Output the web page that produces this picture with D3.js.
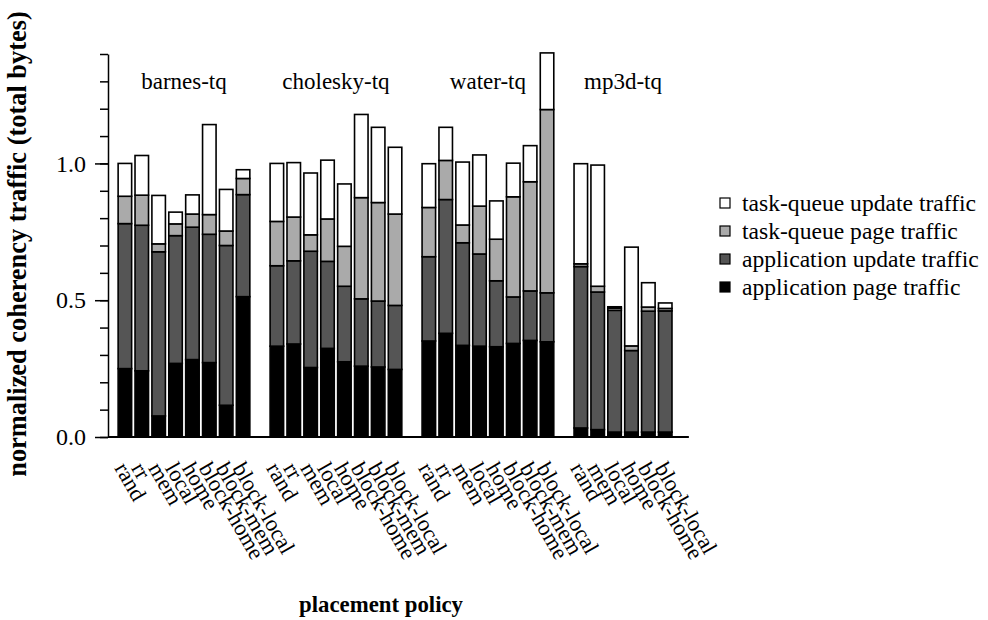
<!DOCTYPE html>
<html>
<head>
<meta charset="utf-8">
<script src="https://cdn.jsdelivr.net/npm/d3@7"></script>
<style>
  body { margin: 0; background: #fff; }
  svg text { font-family: "Liberation Serif", "Times New Roman", serif; }
</style>
</head>
<body>
<div id="chart"></div>
<script>
// benchmark groups and placement policies per group
var groups = ['barnes-tq', 'cholesky-tq', 'water-tq', 'mp3d-tq'];
var policies = [
    ['rand', 'rr', 'mem', 'local', 'home', 'block-home', 'block-mem', 'block-local'],
    ['rand', 'rr', 'mem', 'local', 'home', 'block-home', 'block-mem', 'block-local'],
    ['rand', 'rr', 'mem', 'local', 'home', 'block-home', 'block-mem', 'block-local'],
    ['rand', 'mem', 'local', 'home', 'block-home', 'block-local']
];

// segment heights (normalized), bottom to top
var appPage = [
    [0.250, 0.242, 0.077, 0.269, 0.283, 0.272, 0.116, 0.513],
    [0.332, 0.340, 0.254, 0.324, 0.275, 0.259, 0.256, 0.247],
    [0.351, 0.379, 0.335, 0.332, 0.330, 0.342, 0.353, 0.348],
    [0.033, 0.027, 0.018, 0.018, 0.018, 0.018]
];
var appUpdate = [
    [0.530, 0.532, 0.600, 0.467, 0.484, 0.469, 0.584, 0.373],
    [0.294, 0.304, 0.425, 0.318, 0.276, 0.246, 0.241, 0.234],
    [0.308, 0.489, 0.375, 0.337, 0.241, 0.170, 0.181, 0.179],
    [0.590, 0.503, 0.445, 0.298, 0.442, 0.443]
];
var tqPage = [
    [0.100, 0.110, 0.029, 0.043, 0.048, 0.072, 0.053, 0.059],
    [0.162, 0.160, 0.060, 0.155, 0.146, 0.370, 0.360, 0.334],
    [0.180, 0.143, 0.065, 0.175, 0.152, 0.366, 0.399, 0.670],
    [0.010, 0.021, 0.008, 0.017, 0.015, 0.009]
];
var tqUpdate = [
    [0.120, 0.145, 0.177, 0.043, 0.070, 0.329, 0.152, 0.032],
    [0.212, 0.199, 0.226, 0.215, 0.228, 0.304, 0.275, 0.244],
    [0.160, 0.121, 0.230, 0.187, 0.140, 0.123, 0.132, 0.207],
    [0.366, 0.443, 0.005, 0.361, 0.089, 0.020]
];

var seriesKeys = ['appPage', 'appUpdate', 'tqPage', 'tqUpdate'];
var seriesNames = ['application page traffic', 'application update traffic',
    'task-queue page traffic', 'task-queue update traffic'];
var seriesColors = ['#000000', '#555555', '#aaaaaa', '#ffffff'];
var yTicks = [0, 0.5, 1.0];

var W = 988, H = 620;
var svg = d3.select('#chart').append('svg')
    .attr('width', W)
    .attr('height', H)
    .attr('xmlns', 'http://www.w3.org/2000/svg');

// one row per bar, one empty slot after each group
var rows = [];
var slots = [];
groups.forEach(function(g, gi) {
    policies[gi].forEach(function(p, pi) {
        var key = g + '|' + p;
        slots.push(key);
        rows.push({
            key: key, group: gi, policy: p,
            appPage: appPage[gi][pi], appUpdate: appUpdate[gi][pi],
            tqPage: tqPage[gi][pi], tqUpdate: tqUpdate[gi][pi]
        });
    });
    slots.push(g + '|gap');
});

var x = d3.scaleBand()
    .domain(slots)
    .range([108, 699])
    .paddingInner(0.2)
    .paddingOuter(0.6);
var y = d3.scaleLinear()
    .domain([0, 1.4])
    .range([437, 54]);

var stacked = d3.stack().keys(seriesKeys)(rows);

svg.append('g')
    .selectAll('g')
    .data(stacked)
    .enter()
    .append('g')
    .attr('fill', function(d, i) { return seriesColors[i]; })
    .selectAll('rect')
    .data(function(d) { return d; })
    .enter()
    .append('rect')
    .attr('x', function(d) { return x(d.data.key); })
    .attr('width', x.bandwidth())
    .attr('y', function(d) { return y(d[1]); })
    .attr('height', function(d) { return y(d[0]) - y(d[1]); })
    .attr('stroke', '#000')
    .attr('stroke-width', 1.6);

// baseline
svg.append('line')
    .attr('x1', 108).attr('x2', x(slots[slots.length - 1]) + x.bandwidth())
    .attr('y1', y(0)).attr('y2', y(0))
    .attr('stroke', '#000')
    .attr('stroke-width', 2);

// y axis: minor ticks then labelled ticks
svg.append('g')
    .attr('transform', 'translate(108,0)')
    .call(d3.axisLeft(y).ticks(14).tickSize(8).tickFormat('').tickSizeOuter(0))
    .call(function(g) { g.selectAll('line, path').attr('stroke-width', 1.5); });
svg.append('g')
    .attr('transform', 'translate(108,0)')
    .call(d3.axisLeft(y).tickValues(yTicks).tickSize(13).tickPadding(9)
        .tickFormat(d3.format('.1f')).tickSizeOuter(0))
    .call(function(g) {
        g.select('.domain').remove();
        g.selectAll('line').attr('stroke-width', 1.5);
        g.selectAll('text')
            .style('font-family', '"Liberation Serif", serif')
            .style('font-size', '24px')
            .attr('fill', '#000');
    });

// group titles
svg.append('g')
    .selectAll('text')
    .data(groups)
    .enter()
    .append('text')
    .attr('x', function(g, gi) {
        var first = x(g + '|' + policies[gi][0]);
        var last = x(g + '|' + policies[gi][policies[gi].length - 1]) + x.bandwidth();
        return (first + last) / 2;
    })
    .attr('y', 89)
    .attr('text-anchor', 'middle')
    .style('font-size', '23px')
    .text(function(g) { return g; });

// rotated policy labels
svg.append('g')
    .selectAll('text')
    .data(rows)
    .enter()
    .append('text')
    .attr('transform', function(d) {
        return 'translate(' + (x(d.key) + x.bandwidth() / 2 - 11) + ',468) rotate(60)';
    })
    .style('font-size', '22.5px')
    .text(function(d) { return d.policy; });

// axis titles
svg.append('text')
    .attr('transform', 'translate(26,244) rotate(-90)')
    .attr('text-anchor', 'middle')
    .style('font-size', '26.4px')
    .style('font-weight', 'bold')
    .text('normalized coherency traffic (total bytes)');
svg.append('text')
    .attr('x', 381)
    .attr('y', 612)
    .attr('text-anchor', 'middle')
    .style('font-size', '22.8px')
    .style('font-weight', 'bold')
    .text('placement policy');

// legend, top entry is the top segment
var legend = svg.append('g')
    .selectAll('g')
    .data(d3.range(seriesKeys.length).reverse())
    .enter()
    .append('g')
    .attr('transform', function(d, i) { return 'translate(720,' + (203 + i * 28) + ')'; });
legend.append('rect')
    .attr('x', 0).attr('y', -5)
    .attr('width', 10).attr('height', 10)
    .attr('fill', function(d) { return seriesColors[d]; })
    .attr('stroke', '#000')
    .attr('stroke-width', 1.2);
legend.append('text')
    .attr('x', 22)
    .attr('dy', '0.35em')
    .style('font-size', '23.6px')
    .text(function(d) { return seriesNames[d]; });
</script>
</body>
</html>
